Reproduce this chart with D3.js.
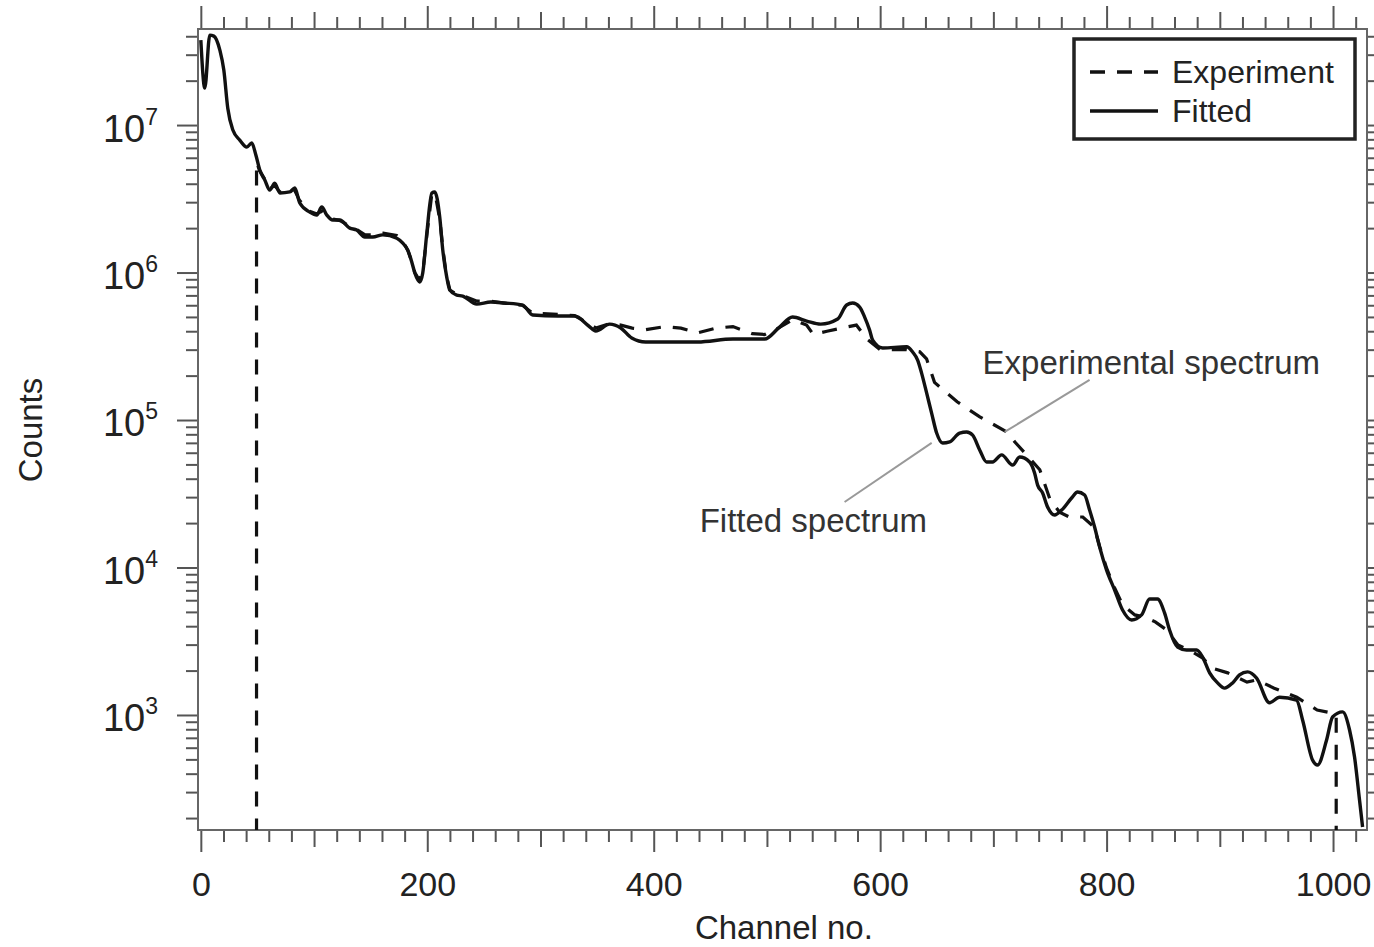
<!DOCTYPE html>
<html>
<head>
<meta charset="utf-8">
<script src="https://cdn.jsdelivr.net/npm/d3@7"></script>
<style>
body { margin: 0; background: #fff; }
text { font-family: Arial, "Liberation Sans", sans-serif; fill: #222; }
</style>
</head>
<body>
<svg id="chart" width="1374" height="947"></svg>
<script>
// fitted spectrum (solid)
var fitChannel = [0, 3.5, 7.9, 11.5, 16.8, 20.3, 23.8, 28.3, 34.4, 40.6, 45.0, 48.6, 52.1, 56.5, 60.9, 65.3, 69.8, 78.6, 83.0, 87.4,
  96.2, 102.4, 106.8, 111.3, 116.6, 122.7, 131.6, 137.7, 144.8, 151.9, 160.7, 173.1, 178.4, 182.8, 186.3, 189.0, 193.4, 196.0, 199.6, 204.0,
  206.6, 211.0, 213.7, 217.2, 219.9, 226.0, 231.3, 243.7, 256.1, 268.4, 284.3, 293.2, 315.2, 330.2, 342.6, 348.8, 361.1, 370.9, 380.6, 392.9,
  423.8, 438.9, 469.8, 498.0, 510.4, 522.7, 535.1, 547.5, 562.5, 570.4, 575.7, 581.9, 586.3, 590.7, 593.4, 602.2, 623.4, 628.7, 633.1, 636.6,
  641.1, 645.5, 649.9, 655.2, 661.4, 670.2, 676.4, 681.7, 687.9, 694.0, 699.3, 707.3, 717.0, 723.2, 732.0, 736.4, 739.1, 743.5, 747.9, 754.1,
  760.3, 769.1, 774.4, 780.6, 785.0, 789.4, 793.8, 800.0, 807.1, 814.1, 822.1, 830.9, 838.0, 845.0, 851.2, 855.6, 862.7, 870.6, 879.5, 884.8,
  891.0, 898.0, 904.2, 911.3, 917.4, 924.5, 932.5, 943.9, 952.8, 967.8, 973.1, 981.9, 986.3, 994.3, 999.6, 1008.4, 1014.6, 1019.0, 1023.4, 1026.1];
var fitCounts = [3.77e7, 1.78e7, 4.07e7, 4.01e7, 3.22e7, 2.36e7, 1.30e7, 9.25e6, 7.91e6, 7.10e6, 7.55e6, 6.27e6, 4.95e6, 4.24e6, 3.62e6, 4.04e6, 3.46e6, 3.52e6, 3.74e6, 2.96e6,
  2.57e6, 2.45e6, 2.78e6, 2.45e6, 2.27e6, 2.27e6, 2.0e6, 1.94e6, 1.74e6, 1.74e6, 1.80e6, 1.71e6, 1.58e6, 1.42e6, 1.18e6, 9.93e5, 8.63e5, 9.93e5, 1.85e6, 3.46e6,
  3.52e6, 2.38e6, 1.42e6, 9.31e5, 7.60e5, 7.03e5, 6.93e5, 6.11e5, 6.31e5, 6.21e5, 6.02e5, 5.15e5, 5.07e5, 5.07e5, 4.34e5, 4.01e5, 4.47e5, 4.21e5, 3.60e5, 3.38e5,
  3.38e5, 3.38e5, 3.54e5, 3.54e5, 4.21e5, 4.99e5, 4.69e5, 4.47e5, 4.84e5, 6.02e5, 6.21e5, 5.83e5, 4.99e5, 4.07e5, 3.48e5, 3.08e5, 3.14e5, 2.89e5, 2.55e5, 2.08e5,
  1.52e5, 1.11e5, 8.16e4, 6.98e4, 7.1e4, 8.16e4, 8.3e4, 7.9e4, 6.27e4, 5.19e4, 5.19e4, 5.8e4, 4.95e4, 5.61e4, 5.19e4, 4.37e4, 3.62e4, 3.2e4, 2.57e4, 2.27e4,
  2.45e4, 2.96e4, 3.25e4, 3.1e4, 2.45e4, 1.88e4, 1.38e4, 9.6e3, 7.03e3, 5.15e3, 4.41e3, 4.77e3, 6.11e3, 6.11e3, 4.92e3, 3.77e3, 2.89e3, 2.76e3, 2.76e3, 2.47e3,
  1.93e3, 1.65e3, 1.52e3, 1.65e3, 1.87e3, 1.96e3, 1.78e3, 1.21e3, 1.32e3, 1.26e3, 925, 495, 458, 676, 969, 1.05e3, 791, 519, 265, 174];

// experimental spectrum (dashed), zero counts outside 49..1003 drawn as 1
var expChannel = [49.2, 49.2, 52, 56.5, 61, 65, 70, 79, 83, 87, 96, 102, 107, 111, 117, 123, 132, 138, 145, 152,
  161, 173, 178, 183, 186, 189, 193, 196, 200, 204, 207, 211, 214, 217, 220, 226, 231, 244, 256, 268,
  284, 293, 315, 330, 343, 349, 361, 371, 381, 393, 410, 424, 439, 455, 470, 487, 498, 510, 523, 535,
  541, 553, 566, 579, 589, 600, 623, 635, 641, 648, 668, 688, 712, 719, 732, 741, 750, 758.5, 767, 779,
  789, 794, 800, 807, 814, 825, 834, 843, 853, 863, 873, 885, 893, 907, 924, 932.5, 948, 968, 986, 999.6, 1002.8, 1002.8];
var expCounts = [1, 5.6e6, 4.9e6, 4.3e6, 3.7e6, 3.9e6, 3.5e6, 3.6e6, 3.6e6, 3.1e6, 2.6e6, 2.5e6, 2.6e6, 2.45e6, 2.3e6, 2.25e6, 2.05e6, 1.95e6, 1.8e6, 1.8e6,
  1.85e6, 1.78e6, 1.65e6, 1.4e6, 1.2e6, 1.0e6, 8.9e5, 1.0e6, 1.9e6, 3.4e6, 3.4e6, 2.3e6, 1.4e6, 9.5e5, 7.6e5, 7.1e5, 7.0e5, 6.4e5, 6.4e5, 6.2e5,
  6.0e5, 5.3e5, 5.2e5, 5.1e5, 4.5e5, 4.2e5, 4.5e5, 4.4e5, 4.2e5, 4.1e5, 4.3e5, 4.2e5, 3.9e5, 4.2e5, 4.3e5, 3.85e5, 3.8e5, 4.2e5, 4.8e5, 4.4e5,
  3.8e5, 4.0e5, 4.2e5, 4.4e5, 3.5e5, 3.0e5, 3.0e5, 2.9e5, 2.6e5, 1.8e5, 1.33e5, 1.05e5, 8.3e4, 7.1e4, 5.5e4, 4.6e4, 2.9e4, 2.37e4, 2.2e4, 2.2e4,
  1.88e4, 1.38e4, 9.9e3, 7.3e3, 5.6e3, 4.77e3, 4.6e3, 4.28e3, 3.77e3, 2.98e3, 2.76e3, 2.43e3, 2.08e3, 1.93e3, 1.67e3, 1.73e3, 1.52e3, 1.32e3, 1.08e3, 1.03e3, 1.0e3, 1];

var xTickLabels = [0, 200, 400, 600, 800, 1000];
var yDecades = [3, 4, 5, 6, 7];
var legendLabels = ["Experiment", "Fitted"];
// annotation: label, text anchor [channel, counts], pointer from -> to
var noteLabels = ["Experimental spectrum", "Fitted spectrum"];
var noteText = [[690.5, 2.05e5], [440.6, 1.74e4]];
var notePointer = [[[785, 1.87e5], [710, 8.3e4]], [[568.6, 2.78e4], [645.5, 7.0e4]]];

(function () {

var margin = {top: 29, right: 7, bottom: 117, left: 198},
    fullWidth = 1374,
    fullHeight = 947,
    width = fullWidth - margin.left - margin.right,
    height = fullHeight - margin.top - margin.bottom;

var svg = d3.select("#chart")
  .append("g")
  .attr("transform", "translate(" + margin.left + "," + margin.top + ")");

var x = d3.scaleLinear().domain([-2.5, 1030]).range([0, width]);
var y = d3.scaleLog().domain([166, 4.48e7]).range([height, 0]);

var fitData = fitChannel.map(function (c, i) { return {c: c, v: fitCounts[i]}; });
var expData = expChannel.map(function (c, i) { return {c: c, v: expCounts[i]}; });

// tick sets
var xMajor = xTickLabels;
var xMid = d3.range(100, 1001, 200);
var xMinor = d3.range(0, 1021, 20).filter(function (d) { return d % 100 != 0; });
var yMajor = yDecades.map(function (d) { return Math.pow(10, d); });
var yMinor = [];
d3.range(2, 8).forEach(function (e) {
  d3.range(2, 10).forEach(function (k) {
    var v = k * Math.pow(10, e);
    if (v >= y.domain()[0] && v <= y.domain()[1]) yMinor.push(v);
  });
});

function addAxis(axis, tx, ty) {
  var g = svg.append("g")
    .attr("class", "axis")
    .attr("transform", "translate(" + tx + "," + ty + ")")
    .style("color", "#555")
    .call(axis);
  g.select(".domain").remove();
  g.selectAll("line").attr("stroke-width", 2);
  return g;
}

// bottom + top
addAxis(d3.axisBottom(x).tickValues(xMinor).tickSize(12).tickFormat(""), 0, height);
addAxis(d3.axisBottom(x).tickValues(xMid).tickSize(17).tickFormat(""), 0, height);
var xLab = addAxis(d3.axisBottom(x).tickValues(xMajor).tickSize(22).tickPadding(20).tickFormat(d3.format("d")), 0, height);
xLab.selectAll("text").style("font-size", "34px").style("fill", "#222");
addAxis(d3.axisTop(x).tickValues(xMinor).tickSize(12).tickFormat(""), 0, 0);
addAxis(d3.axisTop(x).tickValues(xMid).tickSize(17).tickFormat(""), 0, 0);
addAxis(d3.axisTop(x).tickValues(xMajor).tickSize(23).tickFormat(""), 0, 0);

// left + right
addAxis(d3.axisLeft(y).tickValues(yMinor).tickSize(12).tickFormat(""), 0, 0);
var yLab = addAxis(d3.axisLeft(y).tickValues(yMajor).tickSize(21).tickPadding(19)
  .tickFormat(function (d) { return Math.round(Math.log10(d)); }), 0, 0);
yLab.selectAll("text").each(function () {
  var t = d3.select(this), e = t.text();
  t.text(null).attr("dy", "0.42em").style("font-size", "38px").style("fill", "#222");
  t.append("tspan").text("10");
  t.append("tspan").attr("dy", -17).style("font-size", "23px").text(e);
});
addAxis(d3.axisRight(y).tickValues(yMinor).tickSize(12).tickFormat(""), width, 0);
addAxis(d3.axisRight(y).tickValues(yMajor).tickSize(21).tickFormat(""), width, 0);

// frame
svg.append("rect")
  .attr("width", width).attr("height", height)
  .attr("fill", "none").attr("stroke", "#666").attr("stroke-width", 2);

svg.append("clipPath").attr("id", "plot-clip")
  .append("rect").attr("width", width).attr("height", height);

var lineLin = d3.line()
  .x(function (d) { return x(d.c); })
  .y(function (d) { return y(d.v); });
var lineFit = d3.line()
  .x(function (d) { return x(d.c); })
  .y(function (d) { return y(d.v); })
  .curve(d3.curveMonotoneX);

var plot = svg.append("g").attr("clip-path", "url(#plot-clip)");
plot.append("path")
  .datum(expData)
  .attr("class", "line exp")
  .attr("fill", "none").attr("stroke", "#111").attr("stroke-width", 3.2)
  .attr("stroke-dasharray", "15,12")
  .attr("d", lineLin);
plot.append("path")
  .datum(fitData)
  .attr("class", "line fit")
  .attr("fill", "none").attr("stroke", "#111").attr("stroke-width", 3.4)
  .attr("stroke-linejoin", "round")
  .attr("d", lineFit);

// annotations
noteLabels.forEach(function (lab, i) {
  svg.append("line")
    .attr("x1", x(notePointer[i][0][0])).attr("y1", y(notePointer[i][0][1]))
    .attr("x2", x(notePointer[i][1][0])).attr("y2", y(notePointer[i][1][1]))
    .attr("stroke", "#999").attr("stroke-width", 2);
  svg.append("text")
    .attr("x", x(noteText[i][0])).attr("y", y(noteText[i][1]))
    .style("font-size", "33px").style("fill", "#333")
    .text(lab);
});

// legend
var lg = svg.append("g").attr("transform", "translate(" + (1074 - margin.left) + "," + (39 - margin.top) + ")");
lg.append("rect").attr("width", 281).attr("height", 100)
  .attr("fill", "#fff").attr("stroke", "#222").attr("stroke-width", 3.5);
legendLabels.forEach(function (lab, i) {
  var yy = 33 + i * 39;
  lg.append("line")
    .attr("x1", 16).attr("x2", 84).attr("y1", yy).attr("y2", yy)
    .attr("stroke", "#111").attr("stroke-width", 3.4)
    .attr("stroke-dasharray", i == 0 ? "15,12" : null);
  lg.append("text")
    .attr("x", 98).attr("y", yy + 11)
    .style("font-size", "32px")
    .text(lab);
});

// axis titles
svg.append("text")
  .attr("x", x(515)).attr("y", 939 - margin.top)
  .attr("text-anchor", "middle")
  .style("font-size", "33px")
  .text("Channel no.");
svg.append("text")
  .attr("transform", "translate(" + (42 - margin.left) + "," + (430 - margin.top) + ") rotate(-90)")
  .attr("text-anchor", "middle")
  .style("font-size", "33px")
  .text("Counts");

})();
</script>
</body>
</html>
